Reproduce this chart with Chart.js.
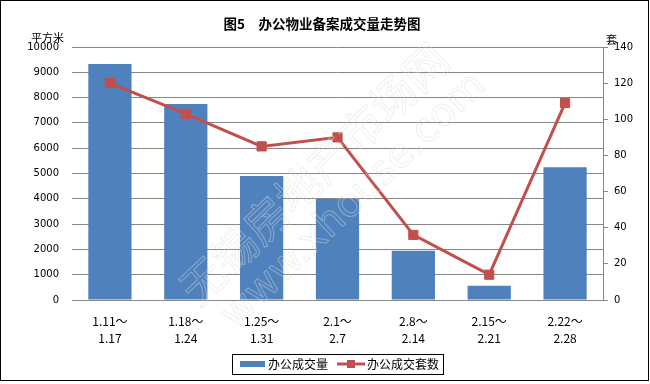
<!DOCTYPE html>
<html>
<head>
<meta charset="utf-8">
<script src="https://cdn.jsdelivr.net/npm/chart.js@4"></script>
<style>
html,body{margin:0;padding:0;background:#fff;}
canvas{display:block;}
</style>
</head>
<body>
<canvas id="c" width="650" height="384" style="width:650px;height:384px"></canvas>
<script>
const categories = [['1.11～','1.17'],['1.18～','1.24'],['1.25～','1.31'],['2.1～','2.7'],['2.8～','2.14'],['2.15～','2.21'],['2.22～','2.28']];
const areaValues = [9330, 7750, 4900, 3990, 1950, 560, 5250];
const unitValues = [120, 103, 85, 90, 36, 14, 109];
const seriesNames = ['办公成交量', '办公成交套数'];
const titleText = '图5　办公物业备案成交量走势图';
const leftAxisTitle = '平方米';
const rightAxisTitle = '套';

const GRID = '#868686';
const CJK = '"Noto Sans CJK SC", "DejaVu Sans", sans-serif';

const decor = {
  id: 'decor',
  afterDraw(chart) {
    const ctx = chart.ctx;
    ctx.save();
    // watermark
    ctx.save();
    ctx.strokeStyle = 'rgba(220,220,220,0.45)';
    ctx.lineWidth = 1;
    ctx.font = '44px ' + CJK;
    ctx.textBaseline = 'middle';
    ctx.textAlign = 'center';
    ctx.translate(318, 178);
    ctx.rotate(-Math.PI / 4.1);
    ctx.strokeText('无锡房地产市场网', 0, -6);
    ctx.font = '40px "DejaVu Sans", sans-serif';
    ctx.strokeText('www.xhouse.com', 10, 42);
    ctx.restore();

    // title
    ctx.fillStyle = '#000';
    ctx.font = 'bold 13.5px ' + CJK;
    ctx.textAlign = 'center';
    ctx.textBaseline = 'middle';
    ctx.fillText(titleText, 322, 24);
    // axis titles
    ctx.font = '11px ' + CJK;
    ctx.textAlign = 'left';
    ctx.fillText(leftAxisTitle, 31, 38);
    ctx.fillText(rightAxisTitle, 606, 40);

    // legend
    const ds = chart.data.datasets;
    ctx.strokeStyle = '#000';
    ctx.lineWidth = 1;
    ctx.strokeRect(232.5, 354.5, 211, 20);
    ctx.fillStyle = ds[0].backgroundColor;
    ctx.fillRect(240, 361, 25, 6);
    ctx.fillStyle = '#000';
    ctx.font = '12px ' + CJK;
    ctx.textBaseline = 'middle';
    ctx.fillText(ds[0].label, 268, 364);
    ctx.strokeStyle = ds[1].borderColor;
    ctx.lineWidth = 3;
    ctx.beginPath(); ctx.moveTo(337, 364); ctx.lineTo(365, 364); ctx.stroke();
    ctx.fillStyle = ds[1].pointBackgroundColor;
    ctx.fillRect(347, 360, 8, 8);
    ctx.fillStyle = '#000';
    ctx.fillText(ds[1].label, 367, 364);

    // outer border
    ctx.strokeStyle = '#000';
    ctx.lineWidth = 1;
    ctx.strokeRect(0.5, 0.5, 648, 380);
    ctx.restore();
  }
};

const plain = v => String(v);

new Chart(document.getElementById('c'), {
  data: {
    labels: categories,
    datasets: [
      {
        type: 'bar',
        label: seriesNames[0],
        data: areaValues,
        backgroundColor: '#4F81BD',
        yAxisID: 'y',
        barPercentage: 0.57,
        categoryPercentage: 1.0,
        order: 2
      },
      {
        type: 'line',
        label: seriesNames[1],
        data: unitValues,
        borderColor: '#C0504D',
        backgroundColor: '#C0504D',
        pointBackgroundColor: '#C0504D',
        pointBorderColor: '#C0504D',
        pointBorderWidth: 1,
        pointStyle: 'rect',
        pointRadius: 6.5,
        borderWidth: 3,
        tension: 0,
        yAxisID: 'y1',
        order: 1
      }
    ]
  },
  options: {
    responsive: false,
    animation: false,
    devicePixelRatio: 1,
    layout: { padding: { top: 47, left: 0, right: 0, bottom: 0 } },
    plugins: { legend: { display: false }, title: { display: false }, tooltip: { enabled: false } },
    scales: {
      x: {
        grid: { display: false, drawTicks: false },
        border: { display: true, color: GRID, width: 1 },
        ticks: { color: '#000', font: { family: '"Noto Sans CJK SC", sans-serif', size: 12, lineHeight: 1.42 }, padding: 13, maxRotation: 0, autoSkip: false },
        afterFit(s) { s.height = 84; }
      },
      y: {
        position: 'left',
        min: 0, max: 10000,
        ticks: { stepSize: 1000, color: '#000', font: { family: '"DejaVu Sans", sans-serif', size: 10 }, padding: 13, callback: plain },
        grid: { color: GRID, drawTicks: false, lineWidth: 1 },
        border: { display: false },
        afterFit(s) { s.width = 72; }
      },
      y1: {
        position: 'right',
        min: 0, max: 140,
        ticks: { stepSize: 20, color: '#000', font: { family: '"DejaVu Sans", sans-serif', size: 10 }, padding: 6, callback: plain },
        grid: { drawOnChartArea: false, drawTicks: true, tickLength: 5, color: GRID },
        border: { display: true, color: GRID, width: 1 },
        afterFit(s) { s.width = 47; }
      }
    }
  },
  plugins: [decor]
});
</script>
</body>
</html>
